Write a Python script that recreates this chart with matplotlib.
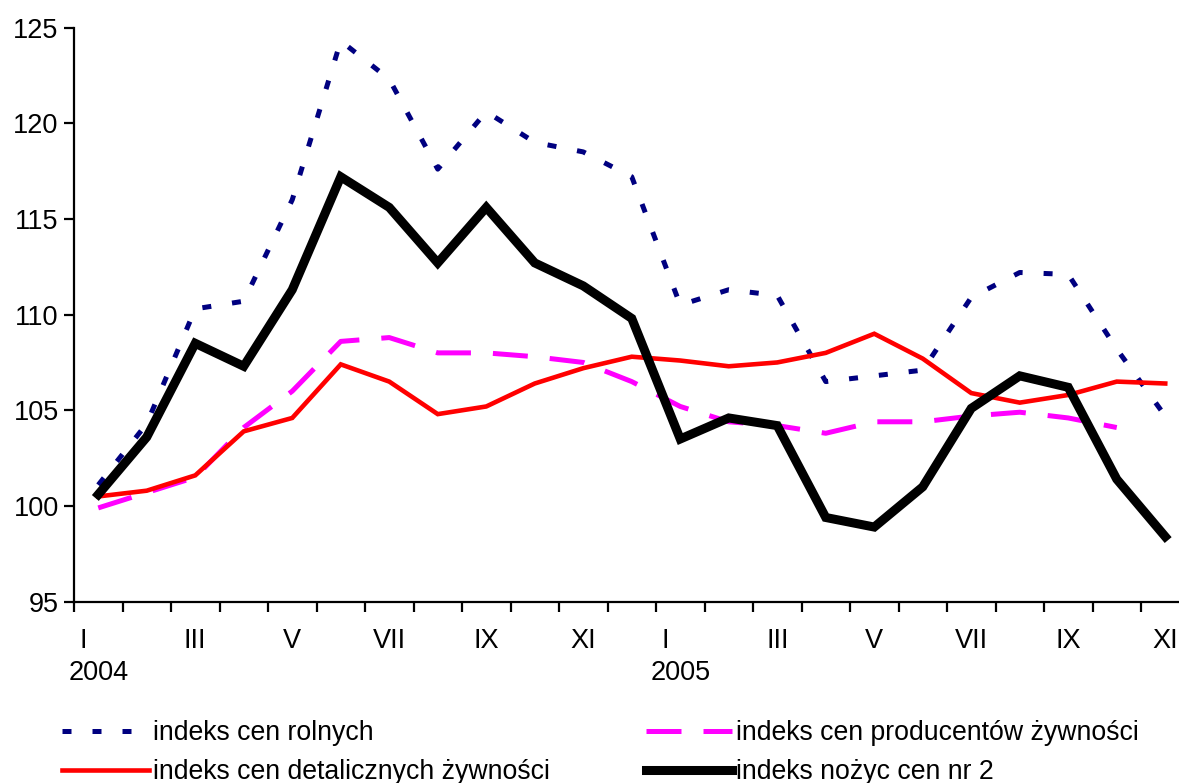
import numpy as np
import matplotlib
matplotlib.use("Agg")
import matplotlib.pyplot as plt
import matplotlib.transforms as mtransforms

plt.rcParams.update({
    "font.family": ["Liberation Sans", "DejaVu Sans"],
    "font.size": 19.5,
})

# ── data: monthly indices, I 2004 .. XI 2005 ──
months = ["I", "II", "III", "IV", "V", "VI", "VII", "VIII", "IX", "X", "XI", "XII",
          "I", "II", "III", "IV", "V", "VI", "VII", "VIII", "IX", "X", "XI"]
years = ["2004", "2005"]

rolnych = [101.1, 104.3, 110.3, 110.7, 116.0, 124.3, 122.3, 117.6, 120.6, 119.0, 118.5, 117.2,
           110.5, 111.3, 111.0, 106.5, 106.8, 107.1, 110.9, 112.2, 112.1, 108.2, 104.7]
producentow = [99.9, 100.7, 101.5, 104.1, 106.0, 108.6, 108.8, 108.0, 108.0, 107.8, 107.5, 106.5,
               105.2, 104.4, 104.2, 103.8, 104.4, 104.4, 104.7, 104.9, 104.6, 104.1, np.nan]
detalicznych = [100.5, 100.8, 101.6, 103.9, 104.6, 107.4, 106.5, 104.8, 105.2, 106.4, 107.2, 107.8,
                107.6, 107.3, 107.5, 108.0, 109.0, 107.7, 105.9, 105.4, 105.8, 106.5, 106.4]
nozyc = [100.6, 103.6, 108.5, 107.3, 111.3, 117.2, 115.6, 112.7, 115.6, 112.7, 111.5, 109.8,
         103.5, 104.6, 104.2, 99.4, 98.9, 101.0, 105.1, 106.8, 106.2, 101.4, 98.4]

labels = ["indeks cen rolnych", "indeks cen producentów żywności",
          "indeks cen detalicznych żywności", "indeks nożyc cen nr 2"]

W, H = 1179, 783
fig = plt.figure(figsize=(W / 100, H / 100), dpi=100)
ax = fig.add_axes([74 / W, (H - 601.7) / H, 23 * 48.5 / W, (601.7 - 27.5) / H])

x = np.arange(len(months))
l1, = ax.plot(x, rolnych, color="#000080", lw=3.6, linestyle=(0, (1.8, 4.2)),
              dash_capstyle="butt", solid_joinstyle="miter")
l2, = ax.plot(x, producentow, color="#FF00FF", lw=3.6, linestyle=(0, (7, 4.4)),
              dash_capstyle="butt")
l3, = ax.plot(x, detalicznych, color="#FF0000", lw=3.3, solid_joinstyle="miter")
l4, = ax.plot(x, nozyc, color="black", lw=6.5, solid_joinstyle="miter")

ax.set_xlim(-0.5, len(months) - 0.5)
ax.set_ylim(95, 125)
ax.set_yticks(np.arange(95, 126, 5))

for s in ["top", "right"]:
    ax.spines[s].set_visible(False)
for s in ["left", "bottom"]:
    ax.spines[s].set_linewidth(1.6)

# month labels on every second month, ticks on category boundaries
pos = x[::2]
lab = [m + ("    " if m == "I" else "") for m in months[::2]]
ax.set_xticks(pos)
ax.set_xticklabels(lab)
ax.set_xticks(np.arange(-0.5, len(months) + 0.5), minor=True)
ax.tick_params(axis="x", which="major", length=0, pad=19)
ax.tick_params(axis="x", which="minor", length=7, width=1.6, direction="out")
ax.tick_params(axis="y", length=7, width=1.6, direction="out", pad=4)

trans = mtransforms.blended_transform_factory(ax.transData, fig.transFigure)
for i, yr in zip([0, 12], years):
    ax.text(i, (H - 673) / H, yr, transform=trans, ha="center", va="center")

handles = [l1, l3, l2, l4]
leg_labels = [labels[0], labels[2], labels[1], labels[3]]
fig.legend(handles, leg_labels, loc="upper left", bbox_to_anchor=(62 / W, (H - 720) / H),
           ncol=2, frameon=False, fontsize=19.2, handlelength=3.25, handletextpad=0.15,
           columnspacing=3.6, labelspacing=0.5, borderaxespad=0, borderpad=0)

fig.savefig("out.png", dpi=100)
